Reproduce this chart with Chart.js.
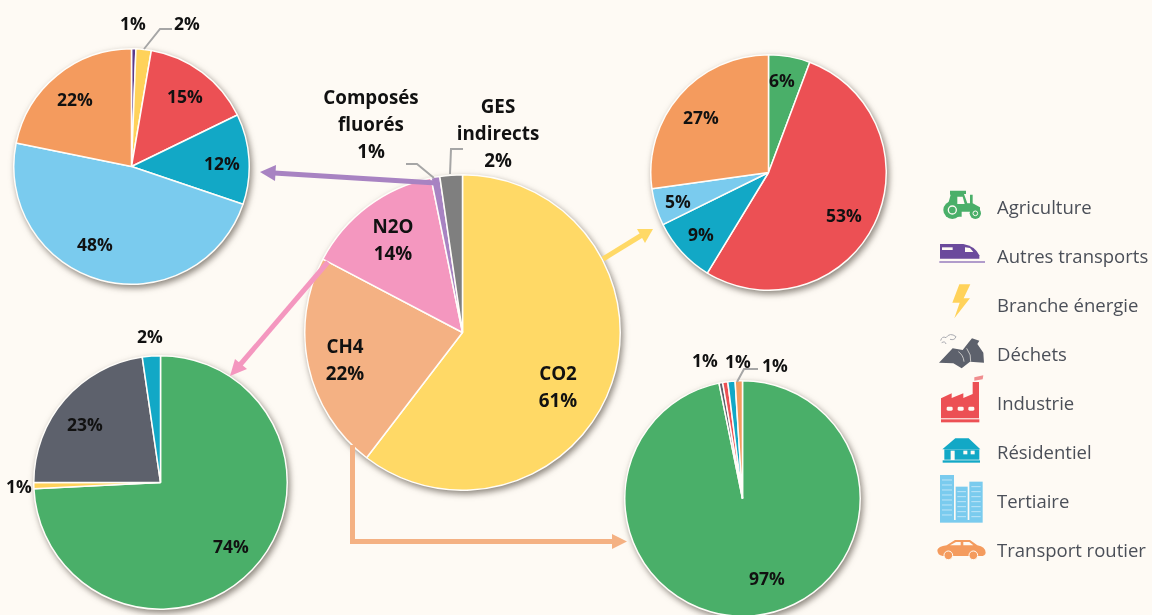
<!DOCTYPE html>
<html lang="fr">
<head>
<meta charset="utf-8">
<title>Émissions de gaz à effet de serre</title>
<script src="https://cdn.jsdelivr.net/npm/chart.js@4/dist/chart.umd.min.js"></script>
<style>
html,body{margin:0;padding:0;background:#fefaf4;width:1152px;height:615px;overflow:hidden}
#stage{position:relative;width:1152px;height:615px;overflow:hidden;font-family:"Open Sans",sans-serif;filter:blur(.5px)}
canvas{position:absolute;filter:drop-shadow(2px 3px 3px rgba(50,40,30,.55))}
svg{position:absolute;left:0;top:0}
.lab{position:absolute;transform:translate(-50%,-50%);text-align:center;font-weight:700;color:#111;white-space:pre;font-size:17.5px;line-height:27px}
.lab.big{font-size:18.8px}
.leg{position:absolute;left:997px;transform:translateY(-50%);color:#4b4f58;font-size:18.5px;white-space:nowrap}
</style>
</head>
<body>
<div id="stage">
<svg id="under" width="1152" height="615"></svg>
</div>
<script>
// --- Data (percent of each pie) ---
const gasNames   = ["CO2","CH4","N2O","Composés fluorés","GES indirects"];
const gasValues  = [60.4,22.3,14.1,0.9,2.3];

const fluorNames  = ["Autres transports","Branche énergie","Industrie","Résidentiel","Tertiaire","Transport routier"];
const fluorValues = [0.6,2.1,15.1,12.4,48.0,21.8];

const co2Names  = ["Agriculture","Industrie","Résidentiel","Tertiaire","Transport routier"];
const co2Values = [5.7,53.0,9.0,5.1,27.2];

const ch4Names  = ["Agriculture","Branche énergie","Déchets","Résidentiel"];
const ch4Values = [74.2,0.8,22.7,2.3];

const n2oNames  = ["Agriculture","Déchets","Industrie","Résidentiel","Transport routier"];
const n2oValues = [96.8,0.5,0.7,1.0,1.0];

const legendLabels = ["Agriculture","Autres transports","Branche énergie","Déchets","Industrie","Résidentiel","Tertiaire","Transport routier"];

// --- Styles & layout ---
const sectorColor={"Agriculture":"#4aaf69","Autres transports":"#5b3a8c","Branche énergie":"#ffd25a","Déchets":"#5d616c",
  "Industrie":"#ec5054","Résidentiel":"#12a8c6","Tertiaire":"#7acbee","Transport routier":"#f49b5e"};
const gasColor={"CO2":"#ffd966","CH4":"#f4b183","N2O":"#f497bf","Composés fluorés":"#a883c2","GES indirects":"#7f7f7f"};

const stage=document.getElementById("stage");
function pie(names,values,colors,cx,cy,r){
  const side=2*r+1;
  const c=document.createElement("canvas");
  c.width=side;c.height=side;
  c.style.cssText=`left:${cx-r-1}px;top:${cy-r-1}px;width:${side}px;height:${side}px`;
  stage.appendChild(c);
  new Chart(c,{type:"pie",data:{labels:names,datasets:[{data:values,backgroundColor:colors,borderColor:"#fffdf9",borderWidth:1.5}]},
    options:{responsive:false,animation:false,layout:{padding:0},plugins:{legend:{display:false},tooltip:{enabled:false}}}});
}
pie(gasNames,gasValues,gasNames.map(n=>gasColor[n]),463,333,158);
pie(fluorNames,fluorValues,fluorNames.map(n=>sectorColor[n]),132,167,118);
pie(co2Names,co2Values,co2Names.map(n=>sectorColor[n]),769,173,118);
pie(ch4Names,ch4Values,ch4Names.map(n=>sectorColor[n]),161,483,127);
pie(n2oNames,n2oValues,n2oNames.map(n=>sectorColor[n]),743,499,118);

// --- Labels ---
const labels=[
 ["CO2\n61%",558,387,1],["CH4\n22%",345,360,1],["N2O\n14%",393,240,1],
 ["Composés\nfluorés\n1%",371,124,1],["GES\nindirects\n2%",498,133,1],
 ["1%",133,23],["2%",187,23],["15%",185,96],["12%",222,163],["48%",95,244],["22%",75,99],
 ["6%",782,80],["53%",844,215],["9%",701,234],["5%",678,201],["27%",701,117],
 ["2%",150,336],["23%",85,424],["1%",19,486],["74%",231,546],
 ["1%",705,360],["1%",738,361],["1%",775,365],["97%",767,578]
];
labels.forEach(([t,x,y,big])=>{
  const d=document.createElement("div");
  d.className="lab"+(big?" big":"");
  d.style.left=x+"px";d.style.top=y+"px";d.textContent=t;
  stage.appendChild(d);
});
legendLabels.forEach((t,i)=>{
  const d=document.createElement("div");
  d.className="leg";d.style.top=(206+i*49)+"px";d.textContent=t;
  stage.appendChild(d);
});

// --- Arrows, leader lines, legend icons ---
const svg=`
<svg width="1152" height="615" xmlns="http://www.w3.org/2000/svg" style="z-index:5">
 <g fill="none" stroke="#a6a6a6" stroke-width="2">
  <polyline points="450,174 451,149 463,149"/>
  <polyline points="434,178 417,164 406,164"/>
  <polyline points="144,49 160,29 172,29"/>
  <polyline points="737,382 744,369 758,369"/>
 </g>
 <g fill="none" stroke-width="5">
  <line x1="603" y1="259" x2="642" y2="235" stroke="#ffd966"/>
  <polygon points="653,229 637,229 645,243" fill="#ffd966" stroke="none"/>
  <polyline points="436,183 274,173" stroke="#a883c2"/>
  <polygon points="260,172 276,165 275,181" fill="#a883c2" stroke="none"/>
  <line x1="328" y1="262" x2="239" y2="366" stroke="#f497bf"/>
  <polygon points="230,376 235,359 247,369" fill="#f497bf" stroke="none"/>
  <polyline points="352.5,445 352.5,541.5 614,541.5" stroke="#f4b183"/>
  <polygon points="627,541.5 612,534 612,549" fill="#f4b183" stroke="none"/>
 </g>
 <g transform="translate(920,170) scale(.33333)">
  <!-- tractor -->
  <g fill="#4aaf69">
   <path d="M90 62H138V72H132L142 100H150V74H158V100L180 112V125H125V140H95V100H85L92 74H90Z"/>
   <circle cx="97" cy="120" r="27"/><circle cx="166" cy="130" r="17"/>
  </g>
  <circle cx="97" cy="120" r="12" fill="none" stroke="#fefaf4" stroke-width="4"/>
  <circle cx="166" cy="130" r="7" fill="none" stroke="#fefaf4" stroke-width="3"/>
  <polygon points="112,80 128,80 134,102 112,102" fill="#fefaf4"/>
  <!-- train -->
  <path d="M60 222H130Q165 228 178 256V266H60Z" fill="#6b4a9c"/>
  <rect x="66" y="232" width="32" height="8" fill="#fefaf4"/><polygon points="135,232 150,234 160,246 135,246" fill="#fefaf4"/>
  <rect x="58" y="273" width="137" height="6" fill="#b19ccb"/>
  <!-- bolt -->
  <polygon points="118,343 151,343 131,385 150,385 103,445 119,398 97,398" fill="#ffd25a"/>
  <!-- waste -->
  <path d="M57 578 L98 535 L128 540 L145 518 L156 505 L178 512 L172 522 L190 548 L192 578 L150 575 L125 595 L100 580Z" fill="#5d616c"/>
  <path d="M115 545Q130 555 132 575M140 535Q155 555 152 575" stroke="#fefaf4" stroke-width="2" fill="none"/>
  <path d="M62 512Q66 497 78 503Q90 486 108 500Q104 512 90 508M65 518Q75 512 78 522" stroke="#a9aab0" stroke-width="3" fill="none"/>
  <!-- factory -->
  <path d="M63 745V685L95 670V684L130 670V684L158 672V636H177V745Z" fill="#ec5054"/>
  <rect x="63" y="748" width="115" height="9" fill="#ec5054"/>
  <rect x="80" y="710" width="18" height="12" rx="4" fill="#fefaf4"/><rect x="113" y="710" width="18" height="12" rx="4" fill="#fefaf4"/><rect x="145" y="710" width="18" height="12" rx="4" fill="#fefaf4"/>
  <polygon points="163,622 190,616 188,628 163,632" fill="#f08d8e"/>
  <!-- house -->
  <polygon points="67,838 106,805 146,805 181,838" fill="#12a8c6"/>
  <rect x="73" y="838" width="105" height="31" fill="#12a8c6"/><rect x="68" y="871" width="112" height="7" fill="#12a8c6"/>
  <rect x="92" y="842" width="12" height="28" fill="#fefaf4"/><rect x="130" y="842" width="12" height="11" fill="#fefaf4"/><rect x="152" y="842" width="12" height="11" fill="#fefaf4"/>
  <!-- buildings -->
  <g fill="#7acbee">
   <rect x="60" y="915" width="42" height="135"/><rect x="107" y="950" width="36" height="100"/><rect x="148" y="935" width="40" height="115"/><rect x="60" y="1050" width="128" height="8"/>
  </g>
  <g stroke="#bfe5f7" stroke-width="3" fill="none">
   <path d="M66 930H96M66 945H96M66 960H96M66 975H96M66 990H96M66 1005H96M66 1020H96M66 1035H96"/>
   <path d="M112 965H138M112 980H138M112 995H138M112 1010H138M112 1025H138M112 1040H138"/>
   <path d="M154 950H182M154 965H182M154 980H182M154 995H182M154 1010H182M154 1025H182M154 1040H182"/>
  </g>
  <!-- car -->
  <path d="M52 1140Q54 1130 80 1126L105 1110H150L172 1126Q196 1130 197 1148Q196 1158 182 1158H68Q52 1156 52 1140Z" fill="#f49b5e"/>
  <polygon points="90,1126 108,1116 122,1116 122,1126" fill="#fefaf4"/><polygon points="130,1116 148,1116 160,1126 130,1126" fill="#fefaf4"/>
  <circle cx="85" cy="1156" r="13" fill="#f49b5e" stroke="#fefaf4" stroke-width="3"/><circle cx="160" cy="1156" r="13" fill="#f49b5e" stroke="#fefaf4" stroke-width="3"/>
 </g>
</svg>`;
document.getElementById("under").outerHTML=svg;
</script>
</body>
</html>
